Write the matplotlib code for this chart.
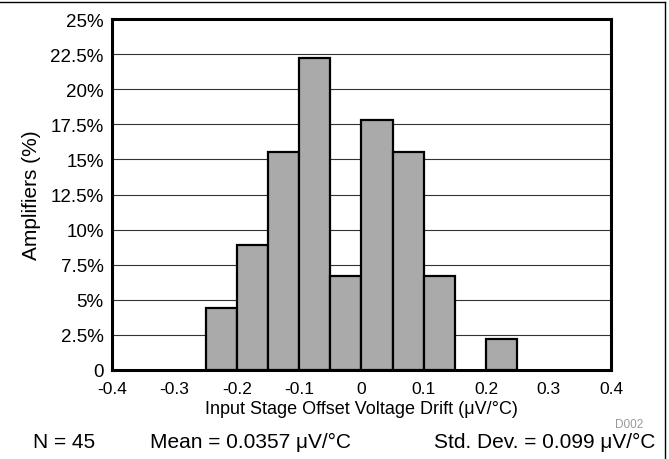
import matplotlib
matplotlib.use("Agg")
import matplotlib.pyplot as plt
from matplotlib.lines import Line2D

plt.rcParams['font.family'] = ['Liberation Sans', 'DejaVu Sans']

bin_left = [-0.25, -0.20, -0.15, -0.10, -0.05, 0.00, 0.05, 0.10, 0.20]
percent = [4.44, 8.89, 15.56, 22.22, 6.67, 17.78, 15.56, 6.67, 2.22]
bin_width = 0.05
xticks = [-0.4, -0.3, -0.2, -0.1, 0, 0.1, 0.2, 0.3, 0.4]
xtick_labels = ['-0.4', '-0.3', '-0.2', '-0.1', '0', '0.1', '0.2', '0.3', '0.4']
yticks = [0, 2.5, 5, 7.5, 10, 12.5, 15, 17.5, 20, 22.5, 25]
ytick_labels = ['0', '2.5%', '5%', '7.5%', '10%', '12.5%', '15%', '17.5%', '20%', '22.5%', '25%']

fig = plt.figure(figsize=(6.69, 4.60), dpi=100)
ax = fig.add_axes([0.1674, 0.1935, 0.7459, 0.763])

ax.bar(bin_left, percent, width=bin_width, align='edge', color='#aaaaaa',
       edgecolor='black', linewidth=1.6, zorder=3)

ax.set_xlim(-0.4, 0.4)
ax.set_ylim(0, 25)
ax.set_xticks(xticks)
ax.set_xticklabels(xtick_labels)
ax.set_yticks(yticks)
ax.set_yticklabels(ytick_labels)
ax.tick_params(axis='both', length=0, colors='black')
ax.tick_params(axis='y', pad=6, labelsize=13.5)
ax.tick_params(axis='x', pad=8, labelsize=12.5)
ax.yaxis.grid(True, color='#333333', linewidth=0.8, zorder=0)
ax.set_axisbelow(True)
for s in ax.spines.values():
    s.set_linewidth(2.2)

ax.set_xlabel('Input Stage Offset Voltage Drift (\u03bcV/\u00b0C)', fontsize=13, labelpad=3)
ax.set_ylabel('Amplifiers (%)', fontsize=15, labelpad=0)
ax.yaxis.set_label_coords(-0.142, 0.5)

fig.text(0.94, 0.077, 'D002', fontsize=8.5, color='#999999', ha='center', va='center')
fig.text(0.049, 0.039, 'N = 45', fontsize=15, ha='left', va='center')
fig.text(0.224, 0.039, 'Mean = 0.0357 \u03bcV/\u00b0C', fontsize=15, ha='left', va='center')
fig.text(0.979, 0.039, 'Std. Dev. = 0.099 \u03bcV/\u00b0C', fontsize=15, ha='right', va='center')

# figure border lines (top and right)
fig.add_artist(Line2D([0, 0.994], [0.994, 0.994], transform=fig.transFigure, color='black', linewidth=1))
fig.add_artist(Line2D([0.994, 0.994], [0, 0.994], transform=fig.transFigure, color='black', linewidth=1))

fig.savefig('out.png', dpi=100)
